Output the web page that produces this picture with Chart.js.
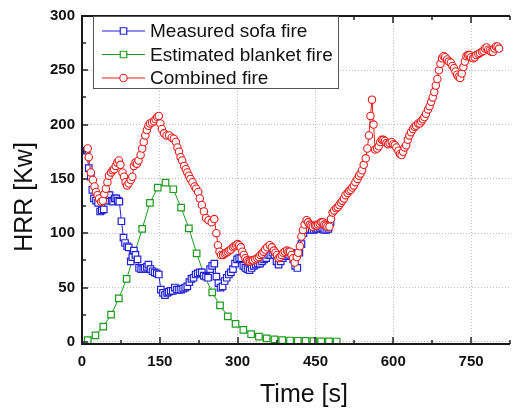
<!DOCTYPE html>
<html>
<head>
<meta charset="utf-8">
<script src="https://cdn.jsdelivr.net/npm/chart.js@4/dist/chart.umd.min.js"></script>
<style>
  html, body { margin: 0; padding: 0; background: #fff; }
</style>
</head>
<body>
<canvas id="hrrChart" width="519" height="408"></canvas>
<script>
// 轴刻度
const xTickLabels = [0, 150, 300, 450, 600, 750];
const yTickLabels = [0, 50, 100, 150, 200, 250, 300];

// Measured sofa fire
const sofaTime = [
  9, 13, 17, 20, 23, 27, 31, 35, 38, 42,
  46, 50, 53, 57, 60, 63, 66, 69, 72, 76,
  80, 83, 87, 90, 94, 97, 100, 103, 107, 110,
  114, 118, 121, 125, 128, 132, 136, 140, 144, 148,
  152, 156, 160, 164, 167, 171, 175, 179, 183, 187,
  191, 195, 199, 203, 207, 211, 215, 219, 223, 227,
  231, 235, 239, 243, 247, 251, 255, 259, 263, 267,
  271, 275, 279, 283, 287, 291, 295, 299, 303, 307,
  311, 315, 319, 323, 327, 331, 335, 339, 343, 347,
  351, 355, 359, 363, 367, 371, 375, 379, 383, 387,
  391, 395, 399, 403, 407, 411, 415, 419, 423, 427,
  431, 435, 439, 443, 447, 451, 455, 459, 463, 467,
  471, 475, 479
];
const sofaHrr = [
  176, 160, 152, 140, 132, 130, 128, 120, 121, 122,
  130, 135, 135, 130, 129, 132, 132, 130, 129, 111,
  96, 91, 88, 87, 74, 78, 84, 80, 76, 68,
  67, 67, 68, 69, 71, 67, 65, 64, 63, 62,
  48, 45, 43, 45, 46, 47, 47, 50, 48, 48,
  48, 49, 50, 51, 55, 58, 59, 62, 63, 64,
  64, 61, 60, 59, 67, 70, 72, 60, 54, 50,
  51, 56, 59, 62, 64, 67, 72, 76, 77, 77,
  70, 68, 67, 66, 68, 70, 71, 72, 72, 74,
  76, 77, 80, 80, 82, 80, 74, 71, 74, 77,
  79, 79, 80, 82, 76, 70, 68, 82, 90, 100,
  103, 105, 104, 103, 103, 104, 104, 105, 105, 103,
  103, 104, 110
];

// Estimated blanket fire
const blanketTime = [
  11, 26, 41, 56, 71, 86, 101, 116, 131, 146,
  161, 176, 191, 206, 221, 236, 251, 266, 281, 296,
  311, 326, 341, 356, 371, 386, 401, 416, 431, 446,
  461, 476, 491
];
const blanketHrr = [
  1.5, 6, 14, 25, 40, 58, 81, 104, 128, 142,
  146.5, 140.5, 123.5, 104.5, 81.5, 61, 45.5, 33.5, 23.5, 16.5,
  11, 7, 4.8, 3.2, 2.2, 1.6, 1.2, 1, 0.8, 0.6,
  0.5, 0.4, 0.3
];

// Combined fire
const combinedTime = [
  11, 13, 17, 21, 24, 27, 30, 33, 37, 40,
  43, 46, 49, 52, 56, 59, 62, 65, 68, 71,
  74, 78, 81, 84, 87, 90, 94, 97, 100, 103,
  106, 109, 113, 116, 119, 122, 125, 128, 131, 135,
  139, 142, 145, 148, 151, 154, 158, 163, 168, 173,
  177, 181, 184, 187, 190, 193, 197, 200, 203, 206,
  209, 213, 217, 220, 224, 227, 231, 235, 239, 244,
  250, 255, 259, 262, 265, 268, 272, 275, 278, 281,
  284, 287, 291, 294, 297, 300, 303, 306, 309, 312,
  315, 318, 321, 324, 327, 330, 334, 338, 341, 344,
  347, 350, 353, 357, 362, 366, 370, 373, 376, 379,
  382, 385, 388, 391, 395, 398, 401, 404, 407, 410,
  414, 417, 420, 423, 426, 429, 433, 436, 439, 442,
  445, 449, 452, 455, 458, 461, 464, 467, 470, 473,
  477, 480, 483, 486, 490, 493, 496, 499, 502, 505,
  508, 512, 515, 518, 521, 524, 527, 531, 534, 537,
  540, 543, 547, 550, 553, 556, 559, 562, 565, 569,
  572, 575, 578, 581, 584, 587, 590, 593, 597, 600,
  603, 606, 610, 613, 616, 619, 622, 625, 628, 631,
  634, 638, 641, 644, 648, 651, 654, 657, 660, 663,
  667, 670, 673, 676, 679, 682, 685, 688, 691, 694,
  697, 700, 704, 707, 711, 714, 717, 720, 723, 726,
  729, 732, 735, 738, 741, 744, 747, 750, 754, 757,
  760, 764, 767, 771, 774, 777, 780, 783, 786, 789,
  792, 795, 798, 801, 804
];
const combinedHrr = [
  178, 170, 156, 149, 143, 138, 135, 132, 129, 130,
  136, 141, 147, 153, 156, 158, 159, 162, 165, 167,
  163, 156, 152, 147, 144, 146, 149, 152, 162, 165,
  164, 167, 172, 178, 184, 190, 195, 199, 201, 202,
  203, 205, 207, 208, 201, 196, 192, 190, 190, 188,
  187, 184, 179, 175, 170, 167, 162, 159, 156, 153,
  150, 147, 143, 141, 138, 132, 126, 120, 114, 112,
  110, 113, 100, 89, 83, 80, 80, 81, 82, 83,
  84, 85, 87, 88, 89, 90, 89, 87, 83, 80,
  77, 75, 74, 74, 75, 75, 76, 77, 78, 80,
  81, 83, 85, 87, 89, 87, 84, 82, 80, 77,
  78, 80, 82, 83, 84, 83, 83, 80, 77, 73,
  78, 82, 88, 97, 103, 108, 112, 110, 108, 107,
  106, 107, 107, 108, 109, 110, 110, 108, 107, 106,
  106, 113, 119, 121, 123, 124, 126, 128, 130, 132,
  135, 137, 139, 140, 142, 144, 147, 150, 153, 155,
  158, 163, 169, 178, 190, 208, 223, 200, 177, 178,
  180, 184, 186, 186, 185, 183, 182, 183, 184, 182,
  181, 179, 176, 173, 172, 175, 179, 181, 186, 190,
  193, 196, 198, 199, 201, 201, 203, 205, 207, 210,
  214, 217, 221, 225, 230, 236, 242, 250, 256, 261,
  263, 262, 260, 258, 257, 254, 252, 249, 246, 244,
  243, 247, 253, 258, 263, 264, 264, 262, 261, 262,
  264, 265, 266, 267, 268, 270, 271, 269, 268, 267,
  267, 270, 272, 272, 270
];

const toPoints = (xs, ys) => xs.map((t, i) => ({ x: t, y: ys[i] }));

const FONT = "'Liberation Sans', Arial, sans-serif";
Chart.defaults.font.family = FONT;

// 坐标轴、内向刻度、图例和轴标题
const framePlugin = {
  id: 'framePlugin',
  afterDatasetsDraw(chart) {
    const { ctx, chartArea: a, scales: { x, y } } = chart;
    ctx.save();

    // 内向刻度
    ctx.strokeStyle = '#222';
    ctx.lineWidth = 1.5;
    ctx.beginPath();
    x.ticks.forEach(t => {
      if (t.value < 0 || t.value % 75 !== 0) return;
      const px = Math.round(x.getPixelForValue(t.value));
      const len = t.value % 150 === 0 ? 7 : 4;
      ctx.moveTo(px, a.bottom); ctx.lineTo(px, a.bottom - len);
      ctx.moveTo(px, a.top); ctx.lineTo(px, a.top + len);
    });
    y.ticks.forEach(t => {
      if (t.value < 0 || t.value % 25 !== 0) return;
      const py = Math.round(y.getPixelForValue(t.value));
      const len = t.value % 50 === 0 ? 6 : 4;
      ctx.moveTo(a.left, py); ctx.lineTo(a.left + len, py);
    });
    ctx.stroke();

    // 轴线
    ctx.strokeStyle = '#1a1a1a';
    ctx.lineWidth = 2;
    ctx.beginPath();
    ctx.moveTo(a.right, a.top);
    ctx.lineTo(a.left, a.top);
    ctx.lineTo(a.left, a.bottom);
    ctx.lineTo(a.right, a.bottom);
    ctx.stroke();

    // 图例
    const bx = 93.5, by = 16.5, bw = 245, bh = 72;
    ctx.fillStyle = '#fff';
    ctx.fillRect(bx, by, bw, bh);
    ctx.strokeStyle = '#555';
    ctx.lineWidth = 1;
    ctx.strokeRect(bx, by, bw, bh);
    chart.data.datasets.forEach((ds, i) => {
      const ly = 31 + i * 23.5;
      ctx.strokeStyle = ds.borderColor;
      ctx.lineWidth = 1;
      ctx.beginPath();
      ctx.moveTo(102, ly); ctx.lineTo(145, ly);
      ctx.stroke();
      ctx.fillStyle = '#fff';
      ctx.strokeStyle = ds.pointBorderColor;
      ctx.lineWidth = ds.pointBorderWidth;
      Chart.helpers.drawPoint(ctx, {
        pointStyle: ds.pointStyle, radius: ds.pointRadius, rotation: 0, borderWidth: ds.pointBorderWidth
      }, 123.5, ly);
      ctx.fillStyle = '#111';
      ctx.font = '19px ' + FONT;
      ctx.textAlign = 'left';
      ctx.textBaseline = 'middle';
      ctx.fillText(ds.label, 150, ly + 1);
    });

    // 轴标题
    ctx.fillStyle = '#111';
    ctx.font = '25px ' + FONT;
    ctx.textAlign = 'center';
    ctx.textBaseline = 'middle';
    ctx.fillText('Time [s]', 304, 395);
    ctx.translate(25, 197);
    ctx.rotate(-Math.PI / 2);
    ctx.fillText('HRR [Kw]', 0, 0);

    ctx.restore();
  }
};

const ctx = document.getElementById('hrrChart').getContext('2d');
const chart = new Chart(ctx, {
  type: 'line',
  data: {
    datasets: [
      {
        label: 'Measured sofa fire',
        data: toPoints(sofaTime, sofaHrr),
        borderColor: '#2020d8',
        pointBorderColor: '#2020d8',
        pointBackgroundColor: '#fff',
        pointStyle: 'rect',
        pointRadius: 4.6,
        pointBorderWidth: 1.2,
        borderWidth: 1,
        order: 2
      },
      {
        label: 'Estimated blanket fire',
        data: toPoints(blanketTime, blanketHrr),
        borderColor: '#1c9a1c',
        pointBorderColor: '#1c9a1c',
        pointBackgroundColor: '#fff',
        pointStyle: 'rect',
        pointRadius: 4.6,
        pointBorderWidth: 1.2,
        borderWidth: 1,
        order: 3
      },
      {
        label: 'Combined fire',
        data: toPoints(combinedTime, combinedHrr),
        borderColor: '#e81c1c',
        pointBorderColor: '#e81c1c',
        pointBackgroundColor: '#fff',
        pointStyle: 'circle',
        pointRadius: 3.7,
        pointBorderWidth: 1.1,
        borderWidth: 1,
        order: 1
      }
    ]
  },
  options: {
    responsive: false,
    animation: false,
    layout: { padding: { left: 0, top: 16, right: 1, bottom: 0 } },
    plugins: {
      legend: { display: false },
      tooltip: { enabled: false }
    },
    scales: {
      x: {
        type: 'linear',
        min: 0,
        max: 825,
        afterFit: s => { s.height = 64; },
        border: { display: false, dash: [1, 2] },
        grid: {
          drawTicks: false,
          lineWidth: 1,
          color: c => (c.tick && c.tick.value > 0 && xTickLabels.includes(c.tick.value)) ? '#bdbdbd' : 'rgba(0,0,0,0)'
        },
        ticks: {
          stepSize: 75,
          maxTicksLimit: 50,
          includeBounds: false,
          padding: 9,
          autoSkip: false,
          maxRotation: 0,
          color: '#111',
          font: { size: 15, weight: 'bold' },
          callback: v => xTickLabels.includes(v) ? String(v) : ''
        }
      },
      y: {
        min: -2,
        max: 300,
        afterFit: s => { s.width = 82; },
        border: { display: false, dash: [1, 2] },
        grid: {
          drawTicks: false,
          lineWidth: 1,
          color: c => (c.tick && yTickLabels.includes(c.tick.value) && c.tick.value < 300) ? '#bdbdbd' : 'rgba(0,0,0,0)'
        },
        ticks: {
          stepSize: 25,
          maxTicksLimit: 50,
          includeBounds: false,
          padding: 7,
          autoSkip: false,
          color: '#111',
          font: { size: 15, weight: 'bold' },
          callback: v => yTickLabels.includes(v) ? String(v) : ''
        }
      }
    }
  },
  plugins: [framePlugin]
});
</script>
</body>
</html>
